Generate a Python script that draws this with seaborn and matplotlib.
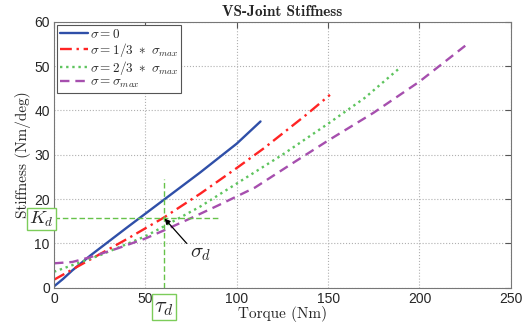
import os
import numpy as np
import pandas as pd
import matplotlib
matplotlib.use("Agg")
import matplotlib.pyplot as plt
from matplotlib.font_manager import FontProperties
import seaborn as sns

# values
torque_s0 = [0, 5, 10, 20, 40, 60, 80, 100, 113]
stiff_s0 = [0.3, 2.0, 3.9, 7.3, 13.6, 19.8, 26.0, 32.5, 37.5]

torque_s13 = [0, 20, 40, 60, 80, 100, 115, 138, 151]
stiff_s13 = [1.8, 6.4, 11.0, 15.8, 21.2, 27.0, 31.5, 39.0, 43.5]

torque_s23 = [0, 25, 50, 60, 80, 100, 125, 150, 170, 189]
stiff_s23 = [3.6, 7.3, 11.6, 13.8, 18.3, 23.5, 30.0, 37.0, 42.8, 49.5]

torque_smax = [0, 10, 20, 35, 50, 60, 75, 90, 110, 131, 150, 175, 200, 225.7]
stiff_smax = [5.5, 5.8, 6.9, 8.9, 11.1, 12.9, 15.7, 18.6, 22.6, 28.2, 33.2, 39.5, 46.5, 54.8]

labels = [r"$\sigma = 0$", r"$\sigma = 1/3\ *\ \sigma_{max}$",
          r"$\sigma = 2/3\ *\ \sigma_{max}$", r"$\sigma = \sigma_{max}$"]
tau_d = 60
k_d = 15.8

sns.set_style("white")
plt.rcParams["font.family"] = ["Liberation Sans", "DejaVu Sans"]
plt.rcParams["mathtext.fontset"] = "cm"

# computer modern fonts shipped with matplotlib
ttf_dir = os.path.join(matplotlib.get_data_path(), "fonts", "ttf")
cm_roman = os.path.join(ttf_dir, "cmr10.ttf")
cm_bold = os.path.join(ttf_dir, "cmb10.ttf")

series = [(torque_s0, stiff_s0, "#2f4fa8", "-"),
          (torque_s13, stiff_s13, "#ff2424", (0, (5, 2, 1, 2))),
          (torque_s23, stiff_s23, "#5ec45e", (0, (1, 1.6))),
          (torque_smax, stiff_smax, "#a64fae", (0, (4, 2.5)))]

fig = plt.figure(figsize=(5.3, 3.32), dpi=100)
ax = fig.add_axes([0.1019, 0.1334, 0.862, 0.8012])

for (tx, sy, col, ls), lab in zip(series, labels):
    df = pd.DataFrame({"Torque": tx, "Stiffness": sy})
    sns.lineplot(data=df, x="Torque", y="Stiffness", ax=ax, color=col,
                 linestyle=ls, linewidth=1.7, label=lab)

# design point guides
ax.plot([tau_d, tau_d], [0, 24.5], color="#66c24a", linestyle=(0, (4, 2)), linewidth=1)
ax.plot([0, 91], [k_d, k_d], color="#66c24a", linestyle=(0, (4, 2)), linewidth=1)
ax.annotate("", xy=(tau_d + 0.5, k_d - 0.2), xytext=(72.6, 10),
            arrowprops=dict(arrowstyle="-|>", color="black", lw=0.9,
                            shrinkA=0, shrinkB=0, mutation_scale=8))
ax.text(80, 7.8, r"$\sigma_d$", fontsize=15, ha="center", va="center")
box = dict(boxstyle="square,pad=0.1", fc="white", ec="#7ccc5a", lw=1)
ax.text(tau_d, -4.4, r"$\tau_d$", fontsize=16, ha="center", va="center",
        bbox=box, clip_on=False, zorder=5)
ax.text(-6.8, k_d - 0.3, r"$K_d$", fontsize=13.5, ha="center", va="center",
        bbox=box, clip_on=False, zorder=5)

ax.set_xlim(0, 250)
ax.set_ylim(0, 60)
ax.set_xticks([0, 50, 100, 150, 200, 250])
ax.set_yticks([0, 10, 20, 30, 40, 50, 60])
ax.grid(True, linestyle=":", color="#b0b0b0", linewidth=0.8)
ax.tick_params(direction="in", top=True, right=True, labelsize=10, length=4,
               color="#555555", pad=3)
for sp in ax.spines.values():
    sp.set_color("#777777")
    sp.set_linewidth(0.8)

ax.set_title("VS-Joint Stiffness", fontproperties=FontProperties(fname=cm_bold, size=11), pad=4)
ax.set_xlabel("Torque (Nm)", fontproperties=FontProperties(fname=cm_roman, size=11), labelpad=0)
ax.set_ylabel("Stiffness (Nm/deg)", fontproperties=FontProperties(fname=cm_roman, size=11), labelpad=2)

leg = ax.legend(loc="upper left", fontsize=9.5, handlelength=2.1, handletextpad=0.2,
                labelspacing=0.0, borderpad=0.2, borderaxespad=0.25,
                fancybox=False, framealpha=1)
leg.get_frame().set_edgecolor("#555555")
leg.get_frame().set_linewidth(0.8)

fig.savefig("out.png", dpi=100)
